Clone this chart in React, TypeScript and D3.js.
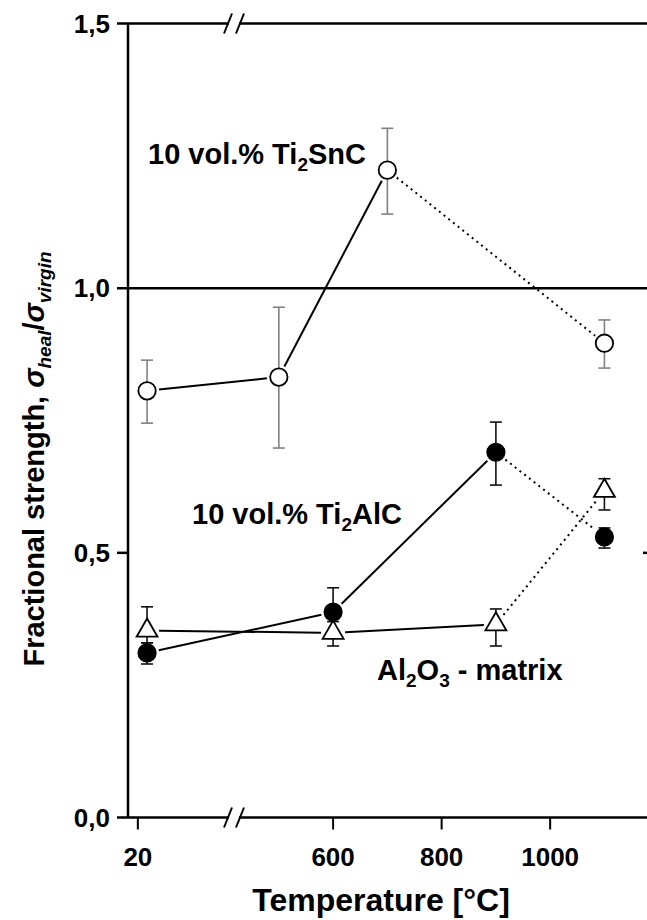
import React from "react";
import * as d3 from "d3";

// temperatures (°C) and fractional strength
const snTemps = [37, 500, 700, 1100];
const snValues = [0.806, 0.832, 1.223, 0.896];
const snLow = [0.745, 0.698, 1.14, 0.849];
const snHigh = [0.864, 0.964, 1.302, 0.94];

const alTemps = [37, 600, 900, 1100];
const alValues = [0.311, 0.388, 0.69, 0.53];
const alLow = [0.29, 0.345, 0.628, 0.509];
const alHigh = [0.33, 0.434, 0.747, 0.547];

const oxTemps = [37, 600, 900, 1100];
const oxValues = [0.353, 0.349, 0.365, 0.617];
const oxLow = [0.33, 0.324, 0.324, 0.581];
const oxHigh = [0.398, 0.37, 0.394, 0.64];

// last segment of every series is dotted
const segmentStyles = ["solid", "solid", "dotted"];

const xTicks = [20, 600, 800, 1000];
const yTicks = [0, 0.5, 1.0, 1.5];

const W = 647;
const H = 920;
const FONT = "'Liberation Sans', Arial, sans-serif";

// broken axis: 0–190 on the left, 410 onwards on the right
const x = d3.scaleLinear().domain([0, 190, 410, 1184]).range([127, 230, 230, 650]);
const y = d3.scaleLinear().domain([0, 1.5]).range([817.5, 23.5]);
const left = 128;
const right = 650;
const breakX = 234;

const fmt = d3.formatLocale({ decimal: ",", thousands: ".", grouping: [3], currency: ["", ""] }).format(".1f");

type Series = {
  temps: number[];
  values: number[];
  low: number[];
  high: number[];
  marker: "open" | "filled" | "triangle";
  errColor: string;
};

const series: Series[] = [
  { temps: snTemps, values: snValues, low: snLow, high: snHigh, marker: "open", errColor: "#808080" },
  { temps: oxTemps, values: oxValues, low: oxLow, high: oxHigh, marker: "triangle", errColor: "#111" },
  { temps: alTemps, values: alValues, low: alLow, high: alHigh, marker: "filled", errColor: "#111" },
];

function shorten(x1: number, y1: number, x2: number, y2: number, gap: number) {
  const dx = x2 - x1;
  const dy = y2 - y1;
  const len = Math.hypot(dx, dy);
  const ux = dx / len;
  const uy = dy / len;
  return [x1 + ux * gap, y1 + uy * gap, x2 - ux * gap, y2 - uy * gap];
}

function BreakMark({ cy }: { cy: number }) {
  return (
    <g>
      <rect x={breakX - 5} y={cy - 3} width={10} height={6} fill="white" />
      {[-6, 6].map((d) => (
        <line key={d} x1={breakX + d - 4} y1={cy + 10} x2={breakX + d + 4} y2={cy - 10} stroke="black" strokeWidth={2} />
      ))}
    </g>
  );
}

export default function App() {
  const triangle = d3.symbol(d3.symbolTriangle, 190)() as string;

  return (
    <svg width={W} height={H} style={{ position: "absolute", left: 0, top: 0, background: "white" }}>
      <rect width={W} height={H} fill="white" />

      {/* frame and reference line */}
      <line x1={left} y1={y(0)} x2={left} y2={y(1.5)} stroke="black" strokeWidth={2.5} />
      <line x1={right} y1={y(0)} x2={right} y2={y(1.5)} stroke="black" strokeWidth={2.5} />
      <line x1={left - 11} y1={y(0)} x2={W + 5} y2={y(0)} stroke="black" strokeWidth={2.5} />
      <line x1={left - 11} y1={y(1.5)} x2={W + 5} y2={y(1.5)} stroke="black" strokeWidth={2.5} />
      <line x1={left - 11} y1={y(1)} x2={W + 5} y2={y(1)} stroke="black" strokeWidth={2.5} />
      <line x1={left - 11} y1={y(0.5)} x2={left} y2={y(0.5)} stroke="black" strokeWidth={2.5} />
      <line x1={right - 7} y1={y(0.5)} x2={right} y2={y(0.5)} stroke="black" strokeWidth={2.5} />
      <BreakMark cy={y(0)} />
      <BreakMark cy={y(1.5)} />

      {/* y ticks labels */}
      {yTicks.map((t) => (
        <text key={t} x={110} y={y(t) + 9} textAnchor="end" fontFamily={FONT} fontWeight="bold" fontSize={26}>
          {fmt(t)}
        </text>
      ))}

      {/* x ticks */}
      {xTicks.map((t) => (
        <g key={t}>
          <line x1={x(t)} y1={y(0)} x2={x(t)} y2={y(0) + 12} stroke="black" strokeWidth={2} />
          <text x={x(t)} y={866} textAnchor="middle" fontFamily={FONT} fontWeight="bold" fontSize={26}>
            {t}
          </text>
        </g>
      ))}

      {/* axis titles */}
      <text x={381} y={911} textAnchor="middle" fontFamily={FONT} fontWeight="bold" fontSize={32}>
        Temperature [°C]
      </text>
      <text
        transform="translate(44,459) rotate(-90)"
        textAnchor="middle"
        fontFamily={FONT}
        fontWeight="bold"
        fontSize={29}
      >
        Fractional strength,{" "}
        <tspan fontStyle="italic">σ</tspan>
        <tspan fontStyle="italic" fontSize={19} dy={7}>heal</tspan>
        <tspan dy={-7}>/</tspan>
        <tspan fontStyle="italic">σ</tspan>
        <tspan fontStyle="italic" fontSize={19} dy={7}>virgin</tspan>
      </text>

      {/* connecting lines, stopping short of the markers */}
      {series.map((s, si) =>
        s.temps.slice(1).map((t, i) => {
          const [x1, y1, x2, y2] = shorten(x(s.temps[i]), y(s.values[i]), x(t), y(s.values[i + 1]), 12);
          const dotted = segmentStyles[i] === "dotted";
          return (
            <line
              key={`${si}-${i}`}
              x1={x1}
              y1={y1}
              x2={x2}
              y2={y2}
              stroke="black"
              strokeWidth={2}
              strokeDasharray={dotted ? "2,4" : undefined}
            />
          );
        })
      )}

      {/* error bars */}
      {series.map((s, si) =>
        s.temps.map((t, i) => (
          <g key={`e${si}-${i}`} stroke={s.errColor} strokeWidth={1.6}>
            <line x1={x(t)} y1={y(s.low[i])} x2={x(t)} y2={y(s.high[i])} />
            <line x1={x(t) - 6} y1={y(s.low[i])} x2={x(t) + 6} y2={y(s.low[i])} />
            <line x1={x(t) - 6} y1={y(s.high[i])} x2={x(t) + 6} y2={y(s.high[i])} />
          </g>
        ))
      )}

      {/* markers */}
      {series.map((s, si) =>
        s.temps.map((t, i) =>
          s.marker === "triangle" ? (
            <path
              key={`m${si}-${i}`}
              d={triangle}
              transform={`translate(${x(t)},${y(s.values[i])})`}
              fill="white"
              stroke="black"
              strokeWidth={1.8}
            />
          ) : (
            <circle
              key={`m${si}-${i}`}
              cx={x(t)}
              cy={y(s.values[i])}
              r={8.7}
              fill={s.marker === "filled" ? "black" : "white"}
              stroke="black"
              strokeWidth={1.8}
            />
          )
        )
      )}

      {/* series labels */}
      <text x={148} y={164} fontFamily={FONT} fontWeight="bold" fontSize={29}>
        10 vol.% Ti<tspan fontSize={19} dy={7}>2</tspan>
        <tspan dy={-7}>SnC</tspan>
      </text>
      <text x={192} y={524} fontFamily={FONT} fontWeight="bold" fontSize={29}>
        10 vol.% Ti<tspan fontSize={19} dy={7}>2</tspan>
        <tspan dy={-7}>AlC</tspan>
      </text>
      <text x={377} y={680} fontFamily={FONT} fontWeight="bold" fontSize={29}>
        Al<tspan fontSize={19} dy={7}>2</tspan>
        <tspan dy={-7}>O</tspan>
        <tspan fontSize={19} dy={7}>3</tspan>
        <tspan dy={-7}> - matrix</tspan>
      </text>
    </svg>
  );
}
